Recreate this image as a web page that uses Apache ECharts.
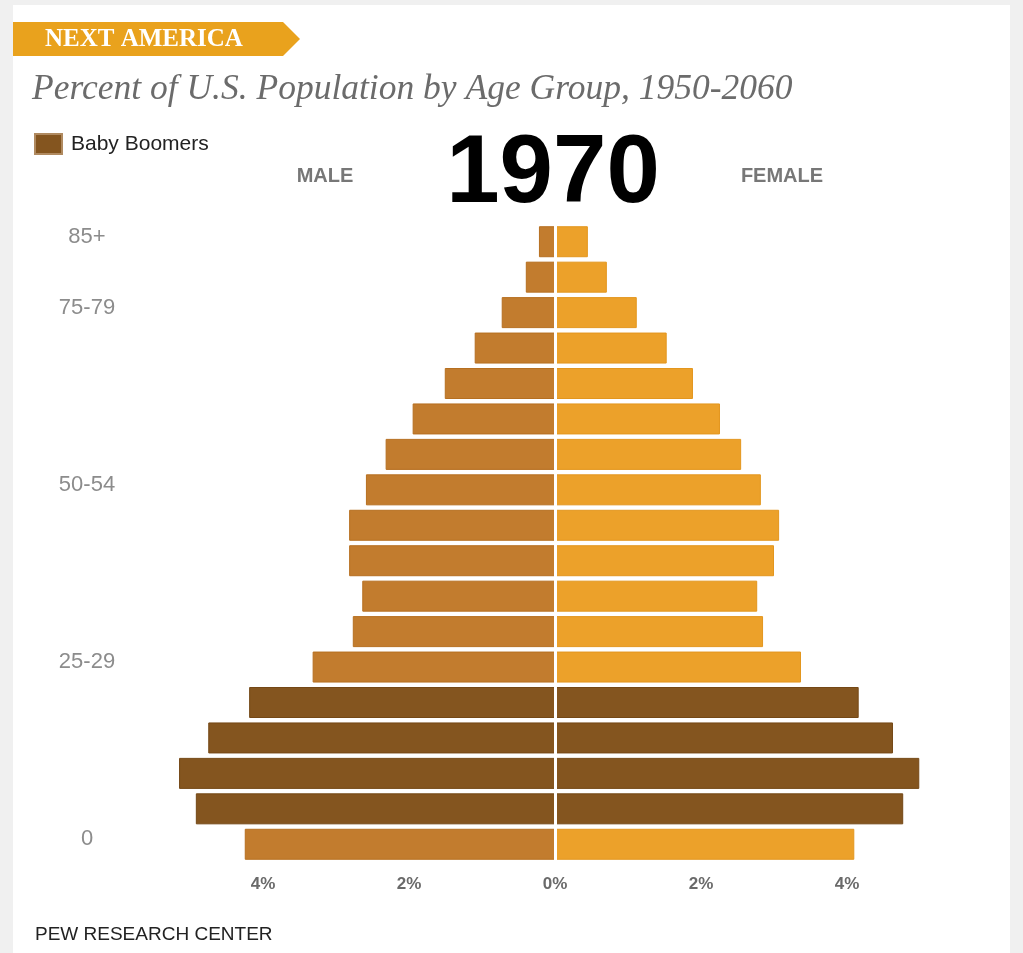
<!DOCTYPE html>
<html>
<head>
<meta charset="utf-8">
<script src="https://cdn.jsdelivr.net/npm/echarts@6/dist/echarts.min.js"></script>
<style>
html,body{margin:0;padding:0;background:#f0f0f0;}
#chart{width:1023px;height:953px;}
</style>
</head>
<body>
<div id="chart"></div>
<script>
// ---- Data ----
const ageGroups = ['0-4','5-9','10-14','15-19','20-24','25-29','30-34','35-39','40-44','45-49','50-54','55-59','60-64','65-69','70-74','75-79','80-84','85+'];
const ageTickLabels = ['0','','','','','25-29','','','','','50-54','','','','','75-79','','85+'];
const maleValues = [4.25,4.92,5.15,4.75,4.19,3.32,2.77,2.64,2.82,2.82,2.59,2.32,1.95,1.51,1.10,0.73,0.40,0.22];
const femaleValues = [4.10,4.77,4.99,4.63,4.16,3.37,2.85,2.77,3.00,3.07,2.82,2.55,2.26,1.89,1.53,1.12,0.71,0.45];
const boomerGroups = ['5-9','10-14','15-19','20-24'];
const xTickValues = [-4,-2,0,2,4];

const BOOMER = '#84551f', BOOMER_B = '#744816';
const MALE = '#c27c2e', MALE_B = '#b66f20';
const FEMALE = '#eca12a', FEMALE_B = '#e3961e';

function barItems(values, sign, base, border) {
  return values.map((v, i) => {
    const boom = boomerGroups.includes(ageGroups[i]);
    return {
      value: sign * v,
      itemStyle: {color: boom ? BOOMER : base, borderColor: boom ? BOOMER_B : border, borderWidth: 1}
    };
  });
}

const chart = echarts.init(document.getElementById('chart'));
const option = {
  backgroundColor: '#f0f0f0',
  animation: false,
  title: {
    text: 'Percent of U.S. Population by Age Group, 1950-2060',
    left: 27, top: 67,
    textStyle: {fontFamily: 'Liberation Serif', fontStyle: 'italic', fontWeight: 'normal', fontSize: 35.5, color: '#6b6b6b'}
  },
  legend: {
    left: 34, top: 133, padding: 0,
    itemWidth: 27, itemHeight: 20, itemGap: 10,
    icon: 'rect',
    data: ['Baby Boomers'],
    textStyle: {fontFamily: 'Liberation Sans', fontSize: 21, color: '#222', padding: [0,0,0,4]},
    selectedMode: false
  },
  grid: {left: 117, right: 30, top: 224, bottom: 91, containLabel: false},
  xAxis: {
    type: 'value', min: -6, max: 6, interval: 2,
    axisLine: {show: false}, axisTick: {show: false}, splitLine: {show: false},
    axisLabel: {
      margin: 14,
      fontFamily: 'Liberation Sans', fontWeight: 'bold', fontSize: 17, color: '#6a6a6a',
      formatter: v => xTickValues.includes(v) ? Math.abs(v) + '%' : ''
    }
  },
  yAxis: {
    type: 'category', data: ageGroups,
    axisLine: {show: false}, axisTick: {show: false}, splitLine: {show: false},
    axisLabel: {
      interval: 0, margin: 30, align: 'center',
      fontFamily: 'Liberation Sans', fontSize: 22, color: '#8c8c8c',
      formatter: (v, i) => ageTickLabels[i] ? '{t|' + ageTickLabels[i] + '}' : '',
      rich: {t: {fontFamily: 'Liberation Sans', fontSize: 22, color: '#8c8c8c', padding: [0, 0, 10, 0]}}
    }
  },
  graphic: [
    {type: 'rect', silent: true, z: -10, shape: {x: 13, y: 5, width: 997, height: 960}, style: {fill: '#ffffff'}},
    {type: 'polygon', silent: true, shape: {points: [[13,22],[283,22],[300,39],[283,56],[13,56]]}, style: {fill: '#e9a21d'}},
    {type: 'text', silent: true, x: 45, y: 40, style: {text: 'NEXT AMERICA', fill: '#ffffff', font: 'bold 25px "Liberation Serif"', textVerticalAlign: 'middle'}},
    {type: 'text', silent: true, x: 325, y: 176, style: {text: 'MALE', fill: '#777777', font: 'bold 20px "Liberation Sans"', textAlign: 'center', textVerticalAlign: 'middle'}},
    {type: 'text', silent: true, x: 782, y: 176, style: {text: 'FEMALE', fill: '#777777', font: 'bold 20px "Liberation Sans"', textAlign: 'center', textVerticalAlign: 'middle'}},
    {type: 'text', silent: true, x: 553, y: 176, style: {text: '1970', fill: '#000000', font: 'bold 96px "Liberation Sans"', textAlign: 'center', textVerticalAlign: 'middle'}},
    {type: 'text', silent: true, x: 35, y: 935, style: {text: 'PEW RESEARCH CENTER', fill: '#222222', font: '19px "Liberation Sans"', textVerticalAlign: 'middle'}}
  ],
  series: [
    {
      name: 'Male', type: 'bar', stack: 'pop', barWidth: 31,
      data: barItems(maleValues, -1, MALE, MALE_B)
    },
    {
      name: 'Female', type: 'bar', stack: 'pop', barWidth: 31,
      data: barItems(femaleValues, 1, FEMALE, FEMALE_B),
      markLine: {
        silent: true, symbol: 'none', label: {show: false},
        lineStyle: {color: '#ffffff', width: 3, type: 'solid'},
        data: [{xAxis: 0}]
      }
    },
    {
      name: 'Baby Boomers', type: 'bar', stack: 'pop', barWidth: 31, data: [],
      itemStyle: {color: BOOMER, borderColor: '#b08a60', borderWidth: 1}
    }
  ]
};
chart.setOption(option);
</script>
</body>
</html>
